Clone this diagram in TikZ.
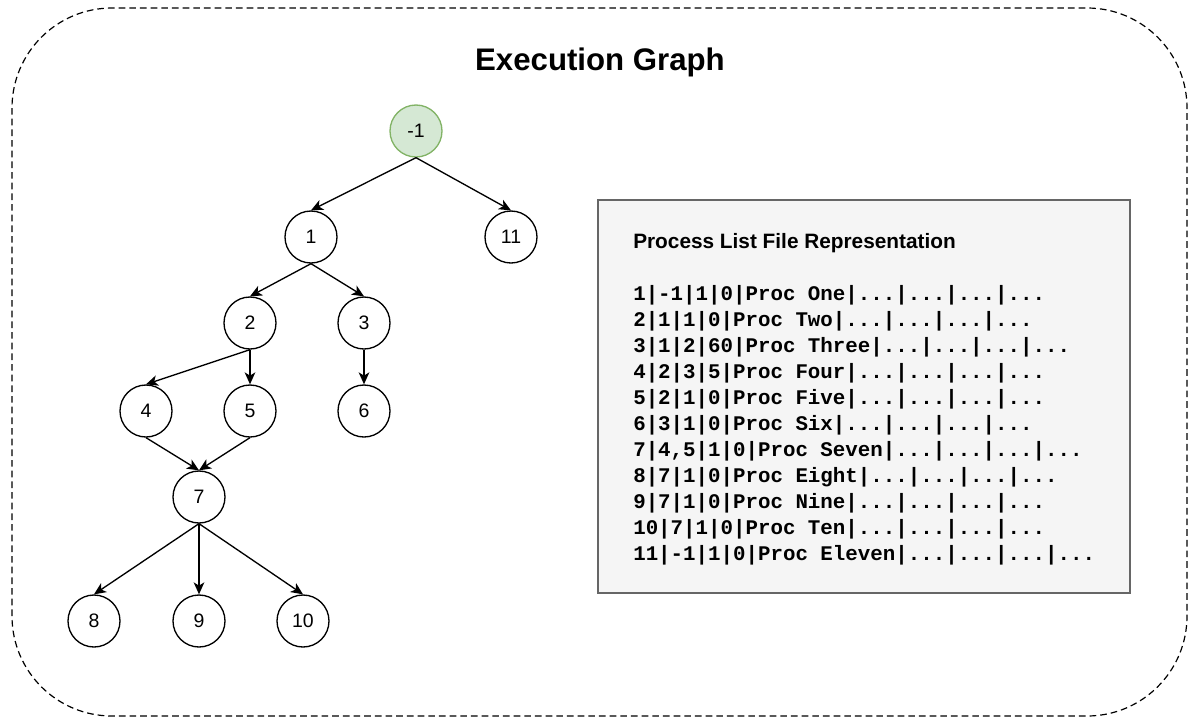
\documentclass[tikz,border=0pt]{standalone}
\usepackage{fontspec}
\setmainfont{Liberation Sans}
\newfontfamily\monobold{Liberation Mono}[BoldFont=* Bold]
\usetikzlibrary{arrows.meta}
\definecolor{greenfill}{HTML}{D5E8D4}
\definecolor{greenline}{HTML}{82B366}
\definecolor{boxfill}{HTML}{F5F5F5}
\definecolor{boxline}{HTML}{666666}
\tikzset{
  vertex/.style={circle, draw=black, line width=1pt, fill=white, minimum size=39pt, inner sep=0pt,
    font=\fontsize{14.6pt}{16pt}\selectfont},
  rootvertex/.style={vertex, fill=greenfill, draw=greenline},
  edge/.style={line width=1pt, -{Stealth[length=9pt,width=8pt,inset=2.5pt]}},
  listline/.style={anchor=west, inner sep=0pt, font=\monobold\bfseries\fontsize{15.6pt}{18pt}\selectfont}
}
\begin{document}
\begin{tikzpicture}[x=0.75pt,y=-0.75pt]
\useasboundingbox (0,0) rectangle (1197,726);
\draw[line width=0.9pt, dash pattern=on 5pt off 3pt, rounded corners=75pt] (12,8) rectangle (1187,716);
\node[font=\bfseries\fontsize{23.4pt}{26pt}\selectfont] (title) at (600,62) {Execution Graph};

\node[rootvertex] (nm1) at (416,131) {-1};
\node[vertex] (n1) at (311,237) {1};
\node[vertex] (n11) at (511,237) {11};
\node[vertex] (n2) at (250,323) {2};
\node[vertex] (n3) at (364,323) {3};
\node[vertex] (n4) at (146,411) {4};
\node[vertex] (n5) at (250,411) {5};
\node[vertex] (n6) at (364,411) {6};
\node[vertex] (n7) at (199,497) {7};
\node[vertex] (n8) at (94,621) {8};
\node[vertex] (n9) at (199,621) {9};
\node[vertex] (n10) at (303,621) {10};

\draw[edge] (nm1.south) -- (n1.north);
\draw[edge] (nm1.south) -- (n11.north);
\draw[edge] (n1.south) -- (n2.north);
\draw[edge] (n1.south) -- (n3.north);
\draw[edge] (n2.south) -- (n4.north);
\draw[edge] (n2.south) -- (n5.north);
\draw[edge] (n3.south) -- (n6.north);
\draw[edge] (n4.south) -- (n7.north);
\draw[edge] (n5.south) -- (n7.north);
\draw[edge] (n7.south) -- (n8.north);
\draw[edge] (n7.south) -- (n9.north);
\draw[edge] (n7.south) -- (n10.north);

\node[draw=boxline, fill=boxfill, line width=1pt, minimum width=399pt, minimum height=294.75pt, inner sep=0pt] (box) at (864,396.5) {};
\node[anchor=west, inner sep=0pt, font=\bfseries\fontsize{15.6pt}{18pt}\selectfont] (boxtitle) at (633,243) {Process List File Representation};
\node[listline] (l1) at (633,295) {1|-1|1|0|Proc One|...|...|...|...};
\node[listline] (l2) at (633,321) {2|1|1|0|Proc Two|...|...|...|...};
\node[listline] (l3) at (633,347) {3|1|2|60|Proc Three|...|...|...|...};
\node[listline] (l4) at (633,373) {4|2|3|5|Proc Four|...|...|...|...};
\node[listline] (l5) at (633,399) {5|2|1|0|Proc Five|...|...|...|...};
\node[listline] (l6) at (633,425) {6|3|1|0|Proc Six|...|...|...|...};
\node[listline] (l7) at (633,451) {7|4,5|1|0|Proc Seven|...|...|...|...};
\node[listline] (l8) at (633,477) {8|7|1|0|Proc Eight|...|...|...|...};
\node[listline] (l9) at (633,503) {9|7|1|0|Proc Nine|...|...|...|...};
\node[listline] (l10) at (633,529) {10|7|1|0|Proc Ten|...|...|...|...};
\node[listline] (l11) at (633,555) {11|-1|1|0|Proc Eleven|...|...|...|...};
\end{tikzpicture}
\end{document}
